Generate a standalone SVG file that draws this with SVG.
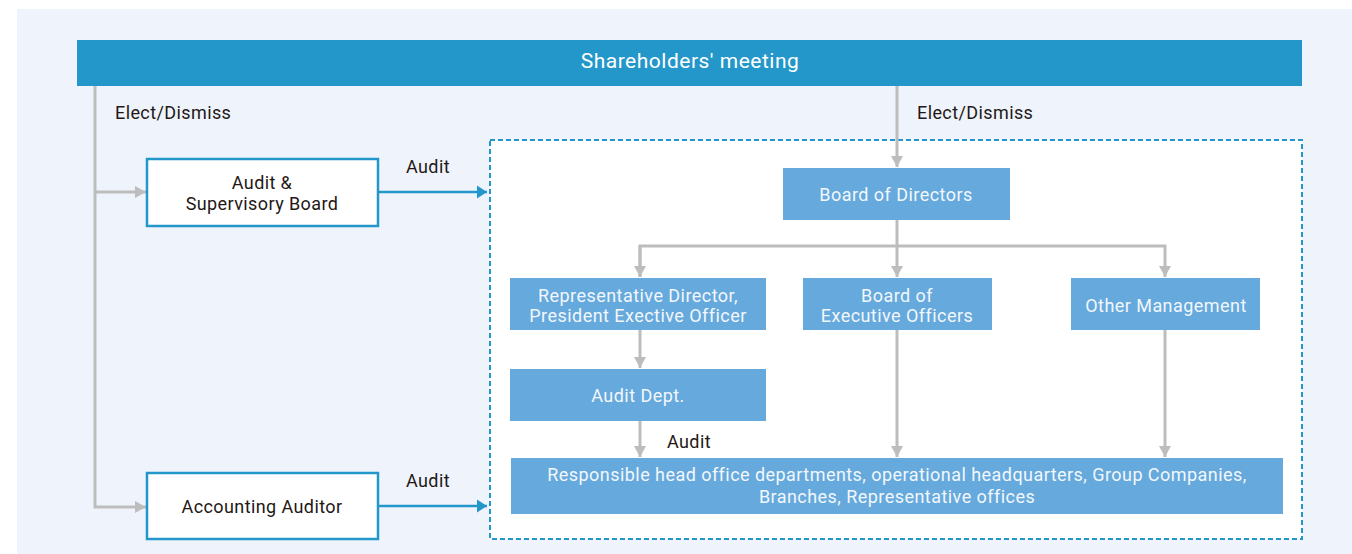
<svg xmlns="http://www.w3.org/2000/svg" width="1352" height="554" viewBox="0 0 1352 554">
<style>
.lbl{font-family:Roboto,"Liberation Sans",sans-serif;font-size:18px;letter-spacing:0.4px;fill:#231815;}
.wt{font-family:Roboto,"Liberation Sans",sans-serif;font-size:18px;letter-spacing:0.45px;fill:#F2F7FC;text-anchor:middle;}
.dk{font-family:Roboto,"Liberation Sans",sans-serif;font-size:18px;letter-spacing:0.4px;fill:#231815;text-anchor:middle;}
.node{fill:#66A9DC;}
.wbox{fill:#FFFFFF;stroke:#2497CA;stroke-width:2.5;}
.gl{fill:none;stroke:#BDBDBD;stroke-width:3;}
.bl{fill:none;stroke:#2497CA;stroke-width:2.5;}
</style>
<defs>
<marker id="ga" markerUnits="userSpaceOnUse" markerWidth="14" markerHeight="12" refX="11" refY="6" orient="auto"><path d="M0,0 L11,6 L0,12 Z" fill="#BDBDBD"/></marker>
<marker id="ba" markerUnits="userSpaceOnUse" markerWidth="14" markerHeight="14" refX="10" refY="7" orient="auto"><path d="M0,0.5 L10,7 L0,13.5 Z" fill="#2497CA"/></marker>
</defs>
<rect x="17" y="9" width="1335" height="545" fill="#EFF4FC"/>
<rect x="490" y="140" width="812" height="399" fill="#FFFFFF" stroke="#2497CA" stroke-width="2" stroke-dasharray="5,3"/>

<g id="connectors">
<path class="gl" d="M95,86 V507 H146" marker-end="url(#ga)"/>
<path class="gl" d="M95,192 H146" marker-end="url(#ga)"/>
<path class="gl" d="M897,86 V167" marker-end="url(#ga)"/>
<path class="gl" d="M897,220 V277" marker-end="url(#ga)"/>
<path class="gl" d="M640,277 V246 H1165 V277" marker-end="url(#ga)"/>
<path class="gl" d="M640,246 V277" marker-end="url(#ga)"/>
<path class="gl" d="M640,330 V368" marker-end="url(#ga)"/>
<path class="gl" d="M640,421 V457" marker-end="url(#ga)"/>
<path class="gl" d="M897,330 V457" marker-end="url(#ga)"/>
<path class="gl" d="M1165,330 V457" marker-end="url(#ga)"/>
<path class="bl" d="M378,192 H487" marker-end="url(#ba)"/>
<path class="bl" d="M378,506 H487" marker-end="url(#ba)"/>
<text class="lbl" x="115" y="119">Elect/Dismiss</text>
<text class="lbl" x="917" y="119">Elect/Dismiss</text>
<text class="lbl" x="406" y="173">Audit</text>
<text class="lbl" x="406" y="487">Audit</text>
<text class="lbl" x="667" y="448">Audit</text>
</g>

<g id="shareholders">
<rect x="77" y="40" width="1225" height="46" fill="#2497CA"/>
<text x="690" y="68" font-family="Roboto,'Liberation Sans',sans-serif" font-size="21" letter-spacing="0.5" fill="#FFFFFF" text-anchor="middle">Shareholders' meeting</text>
</g>
<g id="audit-board">
<rect class="wbox" x="147" y="159" width="231" height="67"/>
<text class="dk" x="262" y="189">Audit &amp;</text>
<text class="dk" x="262" y="210">Supervisory Board</text>
</g>
<g id="accounting-auditor">
<rect class="wbox" x="147" y="473" width="231" height="66"/>
<text class="dk" x="262" y="513">Accounting Auditor</text>
</g>
<g id="board-directors">
<rect class="node" x="783" y="168" width="227" height="52"/>
<text class="wt" x="896" y="201">Board of Directors</text>
</g>
<g id="rep-director">
<rect class="node" x="510" y="278" width="256" height="52"/>
<text class="wt" x="638" y="302">Representative Director,</text>
<text class="wt" x="638" y="322">President Exective Officer</text>
</g>
<g id="board-exec">
<rect class="node" x="803" y="278" width="189" height="52"/>
<text class="wt" x="897" y="302">Board of</text>
<text class="wt" x="897" y="322">Executive Officers</text>
</g>
<g id="other-mgmt">
<rect class="node" x="1071" y="278" width="189" height="52"/>
<text class="wt" x="1166" y="312">Other Management</text>
</g>
<g id="audit-dept">
<rect class="node" x="510" y="369" width="256" height="52"/>
<text class="wt" x="638" y="402">Audit Dept.</text>
</g>
<g id="departments">
<rect class="node" x="511" y="458" width="772" height="56"/>
<text class="wt" x="897" y="481">Responsible head office departments, operational headquarters, Group Companies,</text>
<text class="wt" x="897" y="503">Branches, Representative offices</text>
</g>
</svg>
